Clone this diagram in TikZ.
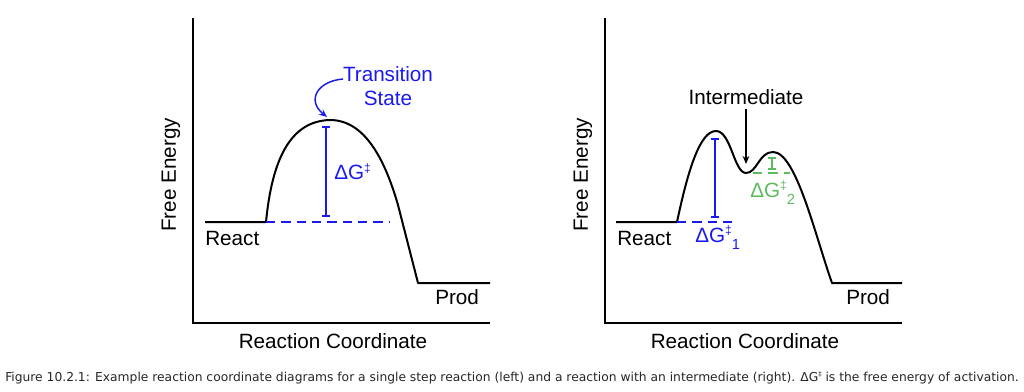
\documentclass[tikz,border=0pt]{standalone}
\usepackage{fontspec}
\setmainfont{Liberation Sans}
\newfontfamily\capfont{DejaVu Sans}
\usetikzlibrary{arrows.meta}
\definecolor{dgblue}{RGB}{25,25,240}
\definecolor{dggreen}{RGB}{95,185,95}
\newcommand{\dgr}{\raisebox{.36em}{\fontsize{9}{9}\selectfont ‡}}
\newcommand{\dsub}[1]{\raisebox{-.38em}{\fontsize{11}{11}\selectfont #1}}
\tikzset{
  lbl/.style={inner sep=0pt, font=\fontsize{15.5}{18}\selectfont},
  axis/.style={line width=1.5pt},
  curve/.style={line width=1.5pt, line join=round},
  level/.style={line width=1.5pt, dash pattern=on 7pt off 4.5pt},
  ibar/.style={line width=1.5pt, {Bar[width=6pt]}-{Bar[width=6pt]}}
}
\begin{document}
\begin{tikzpicture}[x=0.75pt,y=-0.75pt]
  \useasboundingbox (0,0) rectangle (1024,392);
  % Primeiro diagrama - um passo
  \coordinate (o1) at (193,323);
  \coordinate (t1) at (193,18);
  \coordinate (r1) at (490,323);
  \draw[axis] (t1) -- (o1) -- (r1);
  \coordinate (ra) at (205,222);
  \coordinate (rb) at (266,222);
  \coordinate (pk) at (330,120);
  \coordinate (pa) at (418,283);
  \coordinate (pb) at (490,283);
  \draw[curve] (ra) -- (rb) .. controls (272,160) and (290,121) .. (pk)
    .. controls (365,120) and (385,160) .. (398,205) -- (pa) -- (pb);
  \coordinate (dl1) at (390,222);
  \draw[level, dgblue] (rb) -- (dl1);
  \coordinate (ib1) at (326,126);
  \coordinate (ib2) at (326,217);
  \draw[ibar, dgblue] (ib1) -- (ib2);
  \node at (334,172) (dg) [lbl, anchor=west, text=dgblue] {ΔG\dgr};
  \node at (388,86) (ts) [lbl, align=center, text=dgblue] {Transition\\State};
  \coordinate (tsa) at (343,79);
  \coordinate (tsb) at (327,117);
  \draw[dgblue, line width=1.1pt, -{Stealth[length=6pt,width=5pt]}] (tsa) .. controls (318,81) and (306,100) .. (tsb);
  \node at (205,238) (re1) [lbl, anchor=west] {React};
  \node at (435,297) (pr1) [lbl, anchor=west] {Prod};
  \node at (333,341) (xl1) [lbl] {Reaction Coordinate};
  \node at (171,175) (yl1) [lbl, rotate=90] {Free Energy};

  % Segundo diagrama - com intermediario
  \coordinate (o2) at (605,323);
  \coordinate (t2) at (605,18);
  \coordinate (r2) at (902,323);
  \draw[axis] (t2) -- (o2) -- (r2);
  \coordinate (sa) at (616,222);
  \coordinate (sb) at (677,222);
  \coordinate (p1) at (716,131);
  \coordinate (vl) at (746,173);
  \coordinate (p2) at (773,152);
  \coordinate (qa) at (832,283);
  \coordinate (qb) at (902,283);
  \draw[curve] (sa) -- (sb) .. controls (688,170) and (700,131) .. (p1)
    .. controls (731,131) and (734,173) .. (vl)
    .. controls (757,173) and (759,152) .. (p2)
    .. controls (796,152) and (815,235) .. (qa) -- (qb);
  \coordinate (dl2) at (737,222);
  \draw[level, dgblue] (sb) -- (dl2);
  \coordinate (jb1) at (715,138);
  \coordinate (jb2) at (715,218);
  \draw[ibar, dgblue] (jb1) -- (jb2);
  \coordinate (gl1) at (753,173);
  \coordinate (gl2) at (790,173);
  \draw[level, dggreen] (gl1) -- (gl2);
  \coordinate (kb1) at (772,157);
  \coordinate (kb2) at (772,170);
  \draw[ibar, dggreen] (kb1) -- (kb2);
  \node at (695,238) (dg1) [lbl, anchor=west, text=dgblue] {ΔG\dgr\dsub{1}};
  \node at (750,193) (dg2) [lbl, anchor=west, text=dggreen] {ΔG\dgr\dsub{2}};
  \node at (746,97) (im) [lbl] {Intermediate};
  \coordinate (imb) at (746,164);
  \draw[line width=1.1pt, -{Stealth[length=6pt,width=5pt]}] (im.south) ++(0,4) -- (imb);
  \node at (617,238) (re2) [lbl, anchor=west] {React};
  \node at (846,297) (pr2) [lbl, anchor=west] {Prod};
  \node at (745,341) (xl2) [lbl] {Reaction Coordinate};
  \node at (583,175) (yl2) [lbl, rotate=90] {Free Energy};

  % Legenda
  \node at (5,378) (cap) [inner sep=0pt, anchor=west, font=\capfont\fontsize{9.22}{11}\selectfont, text=black!85] {Figure 10.2.1: Example reaction coordinate diagrams for a single step reaction (left) and a reaction with an intermediate (right). ΔG\raisebox{.45em}{\fontsize{5}{5}\selectfont ‡} is the free energy of activation.};
\end{tikzpicture}
\end{document}
